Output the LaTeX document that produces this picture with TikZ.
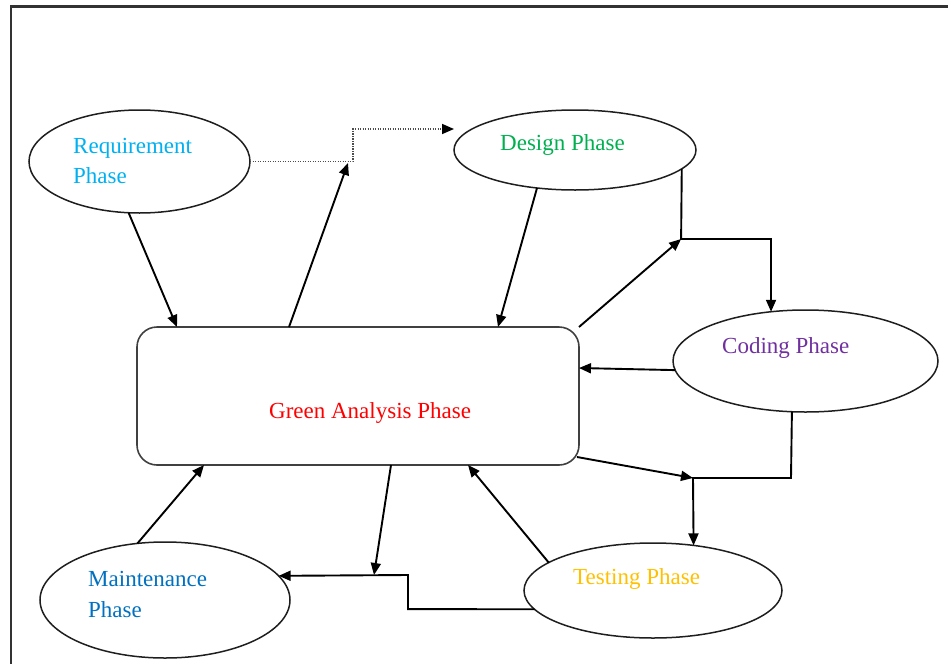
\documentclass[tikz,border=0pt]{standalone}
\usepackage{fontspec}
\setmainfont{Liberation Serif}
\usetikzlibrary{shapes.geometric,arrows.meta,calc}
\definecolor{reqblue}{RGB}{0,176,240}
\definecolor{desgreen}{RGB}{0,176,80}
\definecolor{codpurple}{RGB}{112,48,160}
\definecolor{anared}{RGB}{255,0,0}
\definecolor{tstgold}{RGB}{255,192,0}
\definecolor{mntblue}{RGB}{0,112,192}
\definecolor{edgegray}{RGB}{30,30,30}
\definecolor{framegray}{RGB}{50,50,50}

\begin{document}
\begin{tikzpicture}[x=1pt,y=-1pt,
  phase/.style={ellipse,draw=edgegray,line width=1.5pt,inner sep=0pt,outer sep=0pt},
  hub/.style={rectangle,rounded corners=20pt,draw=edgegray!85,line width=1.6pt,
    inner sep=0pt,outer sep=0pt,minimum width=442pt,minimum height=138pt},
  lbl/.style={anchor=base west,inner sep=0pt,font=\fontsize{23}{30}\selectfont},
  flow/.style={line width=1.9pt,-{Triangle[length=12pt,width=10pt]}},
  hint/.style={line width=1.6pt,gray!60!black,dash pattern=on 1.3pt off 1.2pt,
    -{Triangle[length=12pt,width=10pt,black]}},
  frameline/.style={line width=2.2pt,framegray}
]
\useasboundingbox (0,0) rectangle (948,664);

% page frame
\draw[frameline] (11,670) -- (11,6.5) -- (954,6.5);

% phases
\node[phase,minimum width=221pt,minimum height=103pt] (req) at (139.5,161.5) {};
\node[phase,minimum width=242pt,minimum height=80pt]  (des) at (575,150) {};
\node[phase,minimum width=265pt,minimum height=102pt] (cod) at (805.5,361) {};
\node[phase,minimum width=258pt,minimum height=95pt]  (tst) at (653,590.5) {};
\node[phase,minimum width=250pt,minimum height=116pt] (mnt) at (165,600) {};
\node[hub] (ga) at (358,396) {};

% labels
\node[lbl,text=reqblue] (reqa) at (73,153) {Requirement};
\node[lbl,text=reqblue] (reqb) at (73,183) {Phase};
\node[lbl,text=desgreen] (desl) at (500,150) {Design Phase};
\node[lbl,text=codpurple] (codl) at (722,353) {Coding Phase};
\node[lbl,text=anared] (gal) at (269,418) {Green Analysis Phase};
\node[lbl,text=tstgold] (tstl) at (573,584) {Testing Phase};
\node[lbl,text=mntblue] (mnta) at (88,586) {Maintenance};
\node[lbl,text=mntblue] (mntb) at (88,617) {Phase};

% bends and free ends
\coordinate (up1) at (348,163);
\coordinate (j1) at (353,161.5);
\coordinate (j2) at (353,129);
\coordinate (dend) at (454,129);
\coordinate (c1) at (681.1,239);
\coordinate (c2) at (771,239);
\coordinate (c3) at (791,478);
\coordinate (c4) at (693,478);
\coordinate (t1) at (408,609.1);
\coordinate (t2) at (408,575);
\coordinate (m1) at (374,575);

% connectors
\draw[flow] (req.-102.6) -- ($(ga.north west)+(40,0)$);
\draw[flow] ($(ga.north west)+(152,0)$) -- (up1);
\draw[hint] (req.east) -- (j1) -- (j2) -- (dend);
\draw[flow] (des.-135) -- ($(ga.north west)+(361,0)$);
\draw[flow] (des.-10.3) -- (c1) -- (c2) -- (cod.125);
\draw[flow] (ga.north east) -- (c1);
\draw[flow] (cod.-176.5) -- ($(ga.north east)+(0,41)$);
\draw[flow] (cod.-105.96) -- (c3) -- (c4) -- (tst.48.5);
\draw[flow] ($(ga.south east)+(-2,-8)$) -- (c4);
\draw[flow] (tst.165.3) -- ($(ga.south west)+(331,0)$);
\draw[flow] ($(ga.south west)+(254,0)$) -- (m1);
\draw[flow] (tst.-171.1) -- (t1) -- (t2) -- (mnt.12.5);
\draw[flow] (mnt.116.4) -- ($(ga.south west)+(67,0)$);
\end{tikzpicture}
\end{document}
